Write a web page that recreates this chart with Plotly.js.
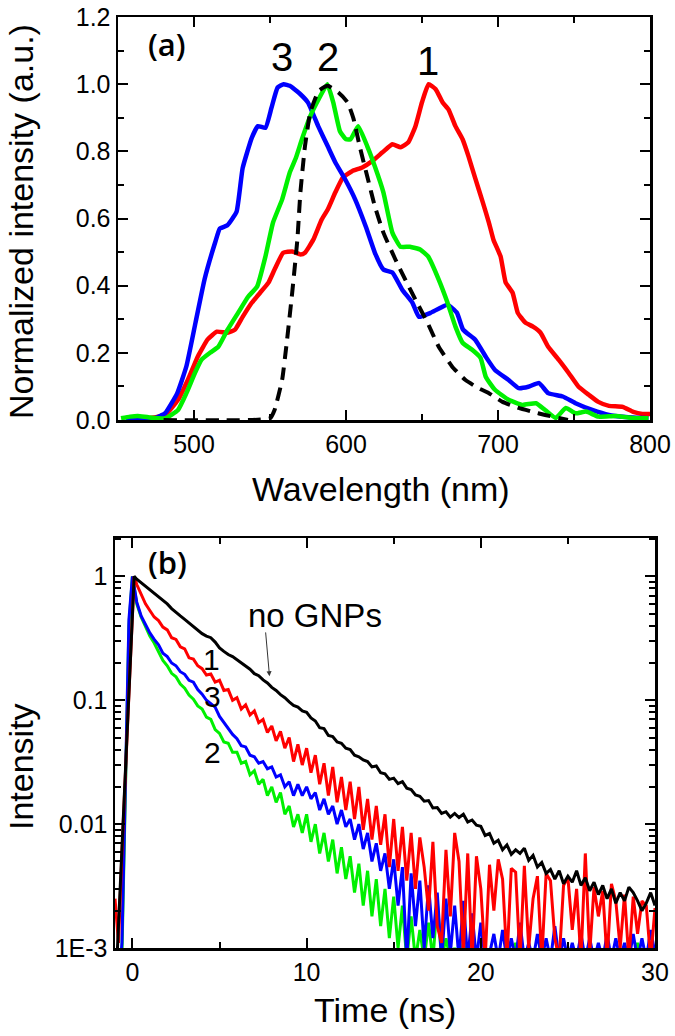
<!DOCTYPE html>
<html>
<head>
<meta charset="utf-8">
<script src="https://cdn.plot.ly/plotly-3.0.1.min.js"></script>
<style>
  html, body { margin: 0; padding: 0; background: #fff; }
  #chart { width: 675px; height: 1036px; }
</style>
</head>
<body>
<div id="chart"></div>
<script>
// ---- (a) emission spectra ----
const wlRed = [462, 470, 481, 489.5, 496, 502.6, 509, 515, 522, 527, 532, 538, 543.5, 549, 553, 558.7, 564.6, 570, 573, 578.5, 584, 588, 593, 598, 604, 610.7, 617, 624, 630.5, 636, 641, 645.7, 650, 654.3, 659, 663.5, 667.4, 672, 676.7, 680.6, 685, 690, 694, 697, 701.7, 705, 709.6, 713, 718, 723, 728, 733, 740, 746.5, 753, 759.7, 766, 773, 782, 789, 795, 800];
const intRed = [0, 0.005, 0.015, 0.06, 0.12, 0.19, 0.24, 0.263, 0.26, 0.269, 0.307, 0.349, 0.379, 0.409, 0.448, 0.498, 0.502, 0.493, 0.498, 0.537, 0.597, 0.627, 0.678, 0.722, 0.741, 0.752, 0.77, 0.797, 0.821, 0.812, 0.827, 0.875, 0.946, 1.0, 0.985, 0.946, 0.925, 0.875, 0.836, 0.785, 0.72, 0.648, 0.588, 0.537, 0.487, 0.41, 0.379, 0.319, 0.29, 0.278, 0.26, 0.218, 0.179, 0.14, 0.099, 0.075, 0.054, 0.042, 0.039, 0.024, 0.018, 0.018];

const wlGreen = [452, 458, 463, 470, 481, 489.5, 495, 500.6, 505, 510.5, 516, 522, 529, 535.6, 541.5, 547, 552, 558, 563, 567, 571, 576.5, 582, 587.7, 591.6, 596, 600, 603, 608, 614, 619, 624.6, 630.5, 635.8, 642, 649, 654, 661, 666.8, 672, 676.7, 683, 688.5, 692, 698, 707, 716, 725, 731, 738, 744.6, 751, 758, 766, 777.5, 789, 799];
const intGreen = [0.005, 0.01, 0.012, 0.008, 0.005, 0.03, 0.08, 0.14, 0.18, 0.2, 0.218, 0.268, 0.319, 0.367, 0.397, 0.487, 0.588, 0.657, 0.737, 0.78, 0.836, 0.905, 0.955, 1.0, 0.946, 0.86, 0.836, 0.836, 0.875, 0.815, 0.755, 0.678, 0.558, 0.516, 0.516, 0.507, 0.487, 0.418, 0.349, 0.278, 0.23, 0.209, 0.185, 0.128, 0.09, 0.06, 0.045, 0.05, 0.03, 0.006, 0.036, 0.02, 0.025, 0.01, 0.012, 0.006, 0.005];

const wlBlue = [455, 474, 481, 489, 495, 501, 507, 514, 517, 522, 528, 532, 538, 542, 547, 551, 555, 559, 563, 570, 575, 581.7, 588, 593, 599.5, 606, 613, 619, 624.6, 630.5, 637, 643.7, 648, 655.6, 666.8, 673, 677, 685, 692, 698, 707, 713.6, 720, 727, 733, 742.6, 751, 762, 773, 784, 799];
const intBlue = [0, 0.005, 0.02, 0.08, 0.16, 0.29, 0.42, 0.53, 0.57, 0.58, 0.62, 0.75, 0.84, 0.875, 0.87, 0.93, 0.99, 1.0, 0.995, 0.97, 0.945, 0.875, 0.815, 0.767, 0.716, 0.657, 0.576, 0.498, 0.448, 0.439, 0.388, 0.349, 0.307, 0.319, 0.343, 0.319, 0.269, 0.239, 0.188, 0.149, 0.119, 0.095, 0.099, 0.11, 0.08, 0.07, 0.05, 0.03, 0.015, 0.009, 0.005];

const wlRef = [480, 550, 553, 558, 561, 564.6, 568, 570, 573, 576.5, 582, 588, 595, 601, 605, 609, 614, 619, 624.6, 632.5, 639, 645.7, 653.6, 661, 670, 678.6, 687, 694, 703, 713.6, 723, 731, 740, 746];
const intRef = [0, 0.005, 0.03, 0.12, 0.23, 0.379, 0.537, 0.678, 0.815, 0.916, 0.98, 0.995, 0.975, 0.946, 0.896, 0.815, 0.725, 0.636, 0.558, 0.478, 0.418, 0.358, 0.29, 0.218, 0.158, 0.119, 0.095, 0.08, 0.054, 0.036, 0.024, 0.015, 0.006, 0];

// ---- (b) decay curves ----
const timeNs = [
  -1.0, -0.8, -0.6, -0.4, -0.2, 0, 0.1,
  0.25, 0.5, 0.75, 1, 1.25, 1.5, 1.75, 2,
  2.25, 2.5, 2.75, 3, 3.25, 3.5, 3.75, 4,
  4.25, 4.5, 4.75, 5, 5.25, 5.5, 5.75, 6,
  6.25, 6.5, 6.75, 7, 7.25, 7.5, 7.75, 8,
  8.25, 8.5, 8.75, 9, 9.25, 9.5, 9.75, 10,
  10.25, 10.5, 10.75, 11, 11.25, 11.5, 11.75, 12,
  12.25, 12.5, 12.75, 13, 13.25, 13.5, 13.75, 14,
  14.25, 14.5, 14.75, 15, 15.25, 15.5, 15.75, 16,
  16.25, 16.5, 16.75, 17, 17.25, 17.5, 17.75, 18,
  18.25, 18.5, 18.75, 19, 19.25, 19.5, 19.75, 20,
  20.25, 20.5, 20.75, 21, 21.25, 21.5, 21.75, 22,
  22.25, 22.5, 22.75, 23, 23.25, 23.5, 23.75, 24,
  24.25, 24.5, 24.75, 25, 25.25, 25.5, 25.75, 26,
  26.25, 26.5, 26.75, 27, 27.25, 27.5, 27.75, 28,
  28.25, 28.5, 28.75, 29, 29.25, 29.5, 29.75, 30
];

const decayNoGNP = [
  0.00036, 0.0016, 0.0065, 0.028, 0.115, 0.49, 1.0,
  0.95, 0.89, 0.84, 0.79, 0.74, 0.69, 0.64, 0.60,
  0.55, 0.51, 0.48, 0.45, 0.42, 0.39, 0.37, 0.345,
  0.33, 0.32, 0.295, 0.265, 0.248, 0.234, 0.225, 0.212,
  0.200, 0.186, 0.178, 0.164, 0.158, 0.146, 0.138, 0.127,
  0.120, 0.111, 0.105, 0.097, 0.091, 0.088, 0.082, 0.080,
  0.072, 0.068, 0.060, 0.059, 0.052, 0.051, 0.046, 0.045,
  0.041, 0.040, 0.036, 0.035, 0.033, 0.032, 0.029, 0.0295,
  0.026, 0.0255, 0.023, 0.0235, 0.0212, 0.022, 0.0195, 0.019,
  0.0172, 0.0168, 0.0153, 0.0155, 0.0135, 0.0136, 0.0122, 0.0126,
  0.0114, 0.0122, 0.0113, 0.0120, 0.0104, 0.0108, 0.0098, 0.0096,
  0.0081, 0.0084, 0.0070, 0.0074, 0.0062, 0.0068, 0.0057, 0.0062,
  0.0058, 0.0064, 0.0051, 0.0056, 0.0045, 0.0049, 0.0040, 0.0043,
  0.0036, 0.0042, 0.0033, 0.0038, 0.0034, 0.0042, 0.0032, 0.0037,
  0.0029, 0.0034, 0.0027, 0.0032, 0.0025, 0.0030, 0.0023, 0.0028,
  0.0024, 0.0031, 0.0028, 0.0024, 0.0020, 0.0023, 0.0028, 0.0022
];

const decay1 = [
  0.0025, 0.0011, 0.006, 0.028, 0.12, 0.5, 1.0,
  0.86, 0.71, 0.60, 0.53, 0.47, 0.44, 0.39, 0.37,
  0.32, 0.31, 0.27, 0.26, 0.22, 0.215, 0.19, 0.18,
  0.16, 0.163, 0.14, 0.145, 0.12, 0.122, 0.10, 0.105,
  0.085, 0.092, 0.076, 0.082, 0.066, 0.070, 0.055, 0.062,
  0.047, 0.056, 0.041, 0.050, 0.032, 0.044, 0.030, 0.041,
  0.026, 0.036, 0.021, 0.031, 0.017, 0.029, 0.015, 0.024,
  0.013, 0.022, 0.011, 0.020, 0.009, 0.016, 0.0075, 0.014,
  0.0068, 0.012, 0.0045, 0.011, 0.0042, 0.0095, 0.0035, 0.0085,
  0.0030, 0.0078, 0.0045, 0.0020, 0.0072, 0.0015, 0.0011, 0.0062,
  0.0018, 0.0085, 0.0050, 0.0009, 0.0058, 0.0008, 0.0055, 0.0030,
  0.0008, 0.0047, 0.0020, 0.0052, 0.0036, 0.0008, 0.0044, 0.0041,
  0.0008, 0.0046, 0.0010, 0.0025, 0.0038, 0.0008, 0.0040, 0.0035,
  0.0012, 0.0008, 0.0032, 0.0037, 0.0014, 0.0030, 0.0008, 0.0058,
  0.0009, 0.0031, 0.0018, 0.0029, 0.0008, 0.0033, 0.0024, 0.0010,
  0.0027, 0.0008, 0.0026, 0.0013, 0.0024, 0.0022, 0.0008, 0.0021
];

const decay2 = [
  0.0004, 0.0005, 0.0009, 0.02, 0.40, 1.0, 0.82,
  0.60, 0.47, 0.40, 0.33, 0.29, 0.25, 0.21, 0.19,
  0.165, 0.155, 0.135, 0.125, 0.11, 0.102, 0.09, 0.085,
  0.073, 0.070, 0.058, 0.054, 0.046, 0.045, 0.038, 0.038,
  0.031, 0.032, 0.025, 0.027, 0.021, 0.023, 0.017, 0.020,
  0.015, 0.018, 0.012, 0.014, 0.0095, 0.012, 0.0085, 0.012,
  0.0072, 0.010, 0.0058, 0.0085, 0.0050, 0.0075, 0.0040, 0.0065,
  0.0036, 0.0055, 0.0028, 0.0048, 0.0022, 0.0042, 0.0018, 0.0036,
  0.0015, 0.0030, 0.0012, 0.0026, 0.0010, 0.0022, 0.0008, 0.0018,
  0.0008, 0.0014, 0.0008, 0.0016, 0.0008, 0.0024, 0.0008, 0.0012,
  0.0008, 0.0010, 0.0008, 0.0011, 0.0008, 0.0008, 0.0008, 0.0008,
  0.0008, 0.0008, 0.0008, 0.0008, 0.0008, 0.0008, 0.0008, 0.0011,
  0.0008, 0.0008, 0.0008, 0.0008, 0.0008, 0.0008, 0.0008, 0.0008,
  0.0008, 0.0008, 0.0008, 0.0008, 0.0008, 0.0008, 0.0008, 0.0008,
  0.0008, 0.0008, 0.0008, 0.0008, 0.0008, 0.0008, 0.0008, 0.0008,
  0.0008, 0.0008, 0.0008, 0.0011, 0.0008, 0.0008, 0.0008, 0.0008
];

const decay3 = [
  0.0004, 0.0005, 0.0011, 0.025, 0.45, 1.0, 0.80,
  0.62, 0.48, 0.41, 0.35, 0.31, 0.28, 0.24, 0.225,
  0.20, 0.19, 0.17, 0.162, 0.145, 0.14, 0.122, 0.112,
  0.10, 0.094, 0.088, 0.074, 0.066, 0.059, 0.053, 0.049,
  0.043, 0.042, 0.036, 0.035, 0.031, 0.032, 0.028, 0.029,
  0.024, 0.025, 0.020, 0.022, 0.017, 0.021, 0.017, 0.020,
  0.016, 0.018, 0.013, 0.016, 0.012, 0.014, 0.010, 0.013,
  0.0095, 0.011, 0.0075, 0.010, 0.0063, 0.0085, 0.0050, 0.0070,
  0.0042, 0.0058, 0.0030, 0.0052, 0.0022, 0.0045, 0.0008, 0.0040,
  0.0015, 0.0035, 0.0010, 0.0032, 0.0012, 0.0028, 0.0008, 0.0025,
  0.0009, 0.0022, 0.0008, 0.0024, 0.0008, 0.0019, 0.0008, 0.0016,
  0.0008, 0.0009, 0.0013, 0.0008, 0.0014, 0.0008, 0.0012, 0.0008,
  0.0016, 0.0008, 0.0011, 0.0008, 0.0013, 0.0008, 0.0012, 0.0008,
  0.0015, 0.0008, 0.0012, 0.0008, 0.0011, 0.0008, 0.0013, 0.0008,
  0.0012, 0.0008, 0.0011, 0.0008, 0.0013, 0.0008, 0.0012, 0.0008,
  0.0011, 0.0008, 0.0013, 0.0008, 0.0012, 0.0008, 0.0014, 0.0009
];

const logTickVals = [0.001, 0.01, 0.1, 1];
const logTickText = ['1E-3', '0.01', '0.1', '1'];

// colours
const RED = '#ff0000', GREEN = '#00f000', BLUE = '#0000ff', BLACK = '#000000';
const W = 675, H = 1036;

// minor ticks for the log axis (2..9 in each decade)
const logMinor = [];
[-3, -2, -1, 0].forEach(d => {
    for (let k = 2; k <= 9; k++) {
        const v = k * Math.pow(10, d);
        if (v < 2.04) logMinor.push(v);
    }
});

const tickFont = { family: 'Liberation Sans, Arial, sans-serif', size: 25, color: '#000' };
const minorTicks = { ticks: 'inside', ticklen: 6, tickwidth: 2, tickcolor: '#000' };

function frame(extra) {
    return Object.assign({
        showline: true, linecolor: '#000', linewidth: 2.5,
        mirror: 'allticks', ticks: 'inside', ticklen: 10, tickwidth: 2, tickcolor: '#000',
        showgrid: false, zeroline: false, fixedrange: true,
        tickfont: tickFont
    }, extra);
}

const spec = (x, y, color, extra) => Object.assign({
    x: x, y: y, type: 'scatter', mode: 'lines', xaxis: 'x', yaxis: 'y',
    line: { color: color, width: 4.5, shape: 'spline', smoothing: 0.4 },
    hoverinfo: 'skip', showlegend: false
}, extra || {});

const decay = (y, color, w) => ({
    x: timeNs, y: y, type: 'scatter', mode: 'lines', xaxis: 'x2', yaxis: 'y2',
    line: { color: color, width: w }, hoverinfo: 'skip', showlegend: false
});

const traces = [
    spec(wlRed, intRed, RED),
    spec(wlBlue, intBlue, BLUE),
    spec(wlGreen, intGreen, GREEN),
    spec(wlRef, intRef, BLACK, { line: { color: BLACK, width: 4, dash: '13px,8px', shape: 'spline', smoothing: 0.4 } }),
    decay(decay2, GREEN, 3),
    decay(decay3, BLUE, 3),
    decay(decay1, RED, 3),
    decay(decayNoGNP, BLACK, 3)
];

const titleFont = { family: 'Liberation Sans, Arial, sans-serif', size: 34, color: '#000' };
const numFont = { family: 'Liberation Sans, Arial, sans-serif', size: 40, color: '#000' };
const numFontB = { family: 'Liberation Sans, Arial, sans-serif', size: 30, color: '#000' };
const panelFont = { family: 'Open Sans, sans-serif', size: 31, color: '#000', weight: 600 };

const lbl = (o) => Object.assign({ showarrow: false, xanchor: 'center', yanchor: 'middle' }, o);

const annotations = [
    // axis titles
    lbl({ xref: 'paper', yref: 'paper', x: 21 / W, y: 1 - 222 / H, text: 'Normalized intensity (a.u.)', textangle: -90, font: titleFont }),
    lbl({ xref: 'paper', yref: 'paper', x: 381 / W, y: 1 - 489 / H, text: 'Wavelength (nm)', font: titleFont }),
    lbl({ xref: 'paper', yref: 'paper', x: 21 / W, y: 1 - 767 / H, text: 'Intensity', textangle: -90, font: titleFont }),
    lbl({ xref: 'paper', yref: 'paper', x: 385 / W, y: 1 - 1010 / H, text: 'Time (ns)', font: titleFont }),
    // panel (a) labels
    lbl({ xref: 'x', yref: 'y', x: 482, y: 1.12, text: '(a)', font: panelFont }),
    lbl({ xref: 'x', yref: 'y', x: 558, y: 1.08, text: '3', font: numFont }),
    lbl({ xref: 'x', yref: 'y', x: 588, y: 1.08, text: '2', font: numFont }),
    lbl({ xref: 'x', yref: 'y', x: 654, y: 1.07, text: '1', font: numFont }),
    // panel (b) labels
    lbl({ xref: 'x2', yref: 'y2', x: 2.0, y: 0.12, text: '(b)', font: panelFont }),
    lbl({ xref: 'x2', yref: 'y2', x: 4.55, y: -0.67, text: '1', font: numFontB }),
    lbl({ xref: 'x2', yref: 'y2', x: 4.6, y: -0.97, text: '3', font: numFontB }),
    lbl({ xref: 'x2', yref: 'y2', x: 4.6, y: -1.42, text: '2', font: numFontB }),
    lbl({ xref: 'x2', yref: 'y2', x: 10.46, y: -0.315, text: 'no GNPs', font: { family: 'Liberation Sans, Arial, sans-serif', size: 33, color: '#000' } }),
    { xref: 'x2', yref: 'y2', x: 7.87, y: -0.806, axref: 'x2', ayref: 'y2', ax: 7.64, ay: -0.44, text: '',
      showarrow: true, arrowhead: 2, arrowsize: 1, arrowwidth: 1, arrowcolor: '#333' }
];

const layout = {
    width: W, height: H,
    margin: { l: 0, r: 0, t: 0, b: 0 },
    paper_bgcolor: '#fff', plot_bgcolor: '#fff',
    showlegend: false,
    xaxis: frame({ domain: [118 / W, 650 / W], anchor: 'y', range: [450, 800], tick0: 500, dtick: 100,
                   minor: Object.assign({ dtick: 50 }, minorTicks) }),
    yaxis: frame({ domain: [1 - 420 / H, 1 - 17 / H], anchor: 'x', range: [0, 1.2], tick0: 0, dtick: 0.2, tickformat: '.1f',
                   minor: Object.assign({ dtick: 0.1 }, minorTicks) }),
    xaxis2: frame({ domain: [115 / W, 655 / W], anchor: 'y2', range: [-1, 30], tick0: 0, dtick: 10,
                    minor: Object.assign({ dtick: 5 }, minorTicks) }),
    yaxis2: frame({ domain: [1 - 948 / H, 1 - 538 / H], anchor: 'x2', type: 'log', range: [-3, 0.31],
                    tickmode: 'array', tickvals: logTickVals, ticktext: logTickText,
                    minor: Object.assign({ tickmode: 'array', tickvals: logMinor }, minorTicks) }),
    annotations: annotations
};

Plotly.newPlot('chart', traces, layout, { displayModeBar: false, staticPlot: true });
</script>
</body>
</html>
